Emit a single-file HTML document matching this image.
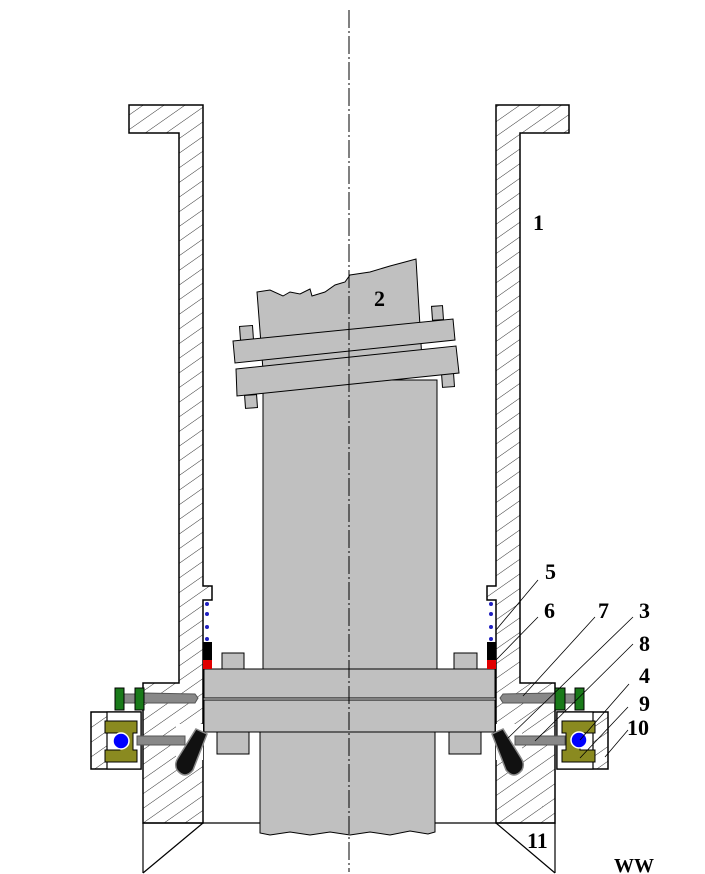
<!DOCTYPE html>
<html><head><meta charset="utf-8"><style>
html,body{margin:0;padding:0;background:#fff;}
svg{display:block;}
text{font-family:"Liberation Serif",serif;font-weight:bold;font-size:22px;fill:#000;}
</style></head><body>
<svg width="705" height="874" viewBox="0 0 705 874" xmlns="http://www.w3.org/2000/svg">
<defs>
<pattern id="h" patternUnits="userSpaceOnUse" width="12" height="12" patternTransform="rotate(-35)">
<rect width="12" height="12" fill="#fff"/><line x1="0" y1="0" x2="12" y2="0" stroke="#333" stroke-width="1"/>
</pattern>
</defs>
<g stroke="#000" stroke-width="1.5" fill="url(#h)">
<!-- left body -->
<path d="M129,105 L203,105 L203,586 L212,586 L212,600 L203,600 L203,823 L143,823 L143,683 L179,683 L179,133 L129,133 Z"/>
<!-- right body -->
<path d="M569,105 L496,105 L496,586 L487,586 L487,600 L496,600 L496,823 L555,823 L555,683 L520,683 L520,133 L569,133 Z"/>
<!-- bearing boxes -->
<rect x="91" y="712" width="50" height="57"/>
<rect x="557" y="712" width="51" height="57"/>
</g>
<g stroke="#000" stroke-width="1.2" fill="#fff">
<rect x="107" y="712" width="34" height="57"/>
<rect x="557" y="712" width="36" height="57"/>
<path d="M176,724 L203,724 L203,760 L176,760 Z" stroke="none"/>
<path d="M496,724 L522,724 L522,760 L496,760 Z" stroke="none"/>
</g>
<!-- bottom -->
<g stroke="#000" stroke-width="1.2" fill="none">
<line x1="143" y1="823" x2="143" y2="873"/><line x1="203" y1="823" x2="143" y2="873"/>
<line x1="143" y1="823" x2="262" y2="823"/>
<line x1="435" y1="823" x2="555" y2="823"/>
<line x1="555" y1="823" x2="555" y2="873"/><line x1="496" y1="823" x2="555" y2="873"/>
</g>
<!-- shaft -->
<g fill="#c0c0c0" stroke="#000" stroke-width="1">
<path d="M263,380 L437,380 L437,669 L263,669 Z"/>
<path d="M260,732 L435,732 L435,832 L428,834 L410,831 L390,835 L370,832 L350,835 L330,832 L310,835 L290,832 L270,835 L260,833 Z"/>
<path d="M257,292 L270,290 L283,296 L290,292 L300,294 L310,289 L312,296 L325,292 L335,285 L345,282 L350,275 L370,272 L390,266 L405,262 L416,259 L422,360 L263,370 Z"/>
<rect x="240" y="326" width="13" height="14" transform="rotate(-4 246 333)"/>
<rect x="432" y="306" width="11" height="14" transform="rotate(-4 437 313)"/>
<rect x="245" y="395" width="12" height="13" transform="rotate(-4 251 401)"/>
<rect x="442" y="373" width="12" height="14" transform="rotate(-4 448 380)"/>
<path d="M233,341 L453,319 L455,340 L235,363 Z"/>
<path d="M236,369 L456,346 L459,373 L237,396 Z"/>
<rect x="222" y="653" width="22" height="16"/>
<rect x="454" y="653" width="23" height="16"/>
<rect x="217" y="732" width="32" height="22"/>
<rect x="449" y="732" width="32" height="22"/>
<rect x="204" y="669" width="291" height="29"/>
<rect x="204" y="700" width="291" height="32"/>
</g>
<!-- seals -->
<rect x="203" y="642" width="9" height="18" fill="#000"/><rect x="203" y="660" width="9" height="9" fill="#e00000"/>
<rect x="487" y="642" width="9" height="18" fill="#000"/><rect x="487" y="660" width="9" height="9" fill="#e00000"/>
<g fill="#2020c0"><circle cx="207" cy="604" r="2"/><circle cx="207" cy="614" r="2"/><circle cx="207" cy="627" r="2"/><circle cx="207" cy="639" r="2"/>
<circle cx="491" cy="604" r="2"/><circle cx="491" cy="614" r="2"/><circle cx="491" cy="627" r="2"/><circle cx="491" cy="639" r="2"/></g>
<!-- rods -->
<g fill="#888" stroke="#555" stroke-width="1">
<path d="M144,693 L195,694 L198,698 L195,703 L144,703 Z"/>
<path d="M555,693 L503,694 L500,698 L503,703 L555,703 Z"/>
<rect x="137" y="736" width="48" height="9"/>
<rect x="515" y="736" width="50" height="9"/>
<rect x="124" y="694" width="11" height="9"/>
<rect x="565" y="694" width="10" height="9"/>
</g>
<g fill="#1a7a1a" stroke="#000" stroke-width="1">
<rect x="115" y="688" width="9" height="22"/><rect x="135" y="688" width="9" height="22"/>
<rect x="555" y="688" width="10" height="22"/><rect x="575" y="688" width="9" height="22"/>
</g>
<!-- olive holders -->
<g fill="#8a8a20" stroke="#000" stroke-width="1">
<path d="M105,721 L137,721 L137,733 L133,733 L133,750 L137,750 L137,762 L105,762 L105,750 L120,750 L120,733 L105,733 Z"/>
<path d="M595,721 L562,721 L562,733 L566,733 L566,750 L562,750 L562,762 L595,762 L595,750 L580,750 L580,733 L595,733 Z"/>
</g>
<circle cx="121" cy="741" r="8" fill="#0000ff" stroke="#fff" stroke-width="1.5"/>
<circle cx="579" cy="740" r="8" fill="#0000ff" stroke="#fff" stroke-width="1.5"/>
<!-- cams -->
<path d="M196,729 L207,734 L193,770 Q185,780 177,770 Q174,764 178,758 Z" fill="#111" stroke="#888" stroke-width="1.5"/>
<path d="M503,729 L492,734 L506,770 Q514,780 522,770 Q525,764 521,758 Z" fill="#111" stroke="#888" stroke-width="1.5"/>
<!-- centerline -->
<line x1="349" y1="10" x2="349" y2="872" stroke="#000" stroke-width="1" stroke-dasharray="18,3,2,3"/>
<!-- leaders -->
<g stroke="#000" stroke-width="0.8">
<line x1="538" y1="580" x2="496" y2="630"/>
<line x1="538" y1="617" x2="496" y2="660"/>
<line x1="595" y1="617" x2="523" y2="696"/>
<line x1="633" y1="617" x2="508" y2="738"/>
<line x1="633" y1="644" x2="535" y2="741"/>
<line x1="629" y1="684" x2="580" y2="740"/>
<line x1="628" y1="707" x2="580" y2="758"/>
<line x1="628" y1="730" x2="605" y2="757"/>
</g>
<text x="533" y="230">1</text>
<text x="374" y="306">2</text>
<text x="545" y="579">5</text>
<text x="544" y="618">6</text>
<text x="598" y="618">7</text>
<text x="639" y="618">3</text>
<text x="639" y="651">8</text>
<text x="639" y="683">4</text>
<text x="639" y="711">9</text>
<text x="627" y="735">10</text>
<text x="527" y="848">11</text>
<text x="614" y="872" style="font-size:20px">WW</text>
</svg>
</body></html>
